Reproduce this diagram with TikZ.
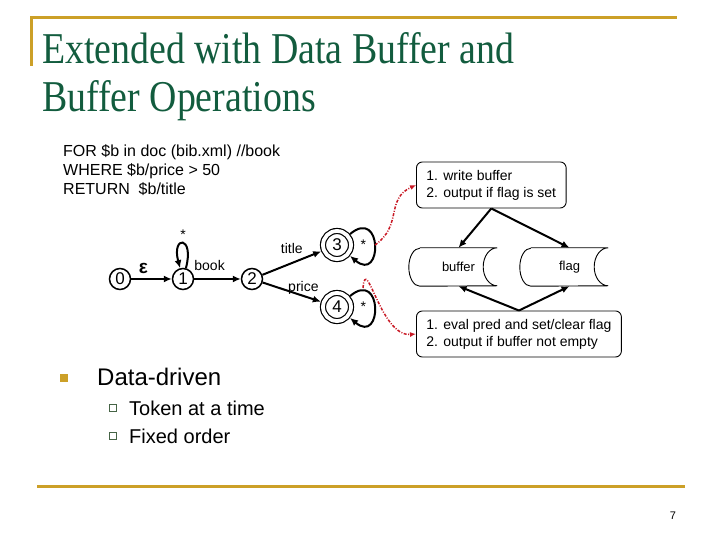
\documentclass[tikz,border=0pt]{standalone}
\usepackage{fontspec}
\setmainfont{Liberation Sans}
\newfontfamily\titlefont[FakeStretch=0.86]{Liberation Serif}
\usetikzlibrary{arrows.meta}

\definecolor{rulegold}{RGB}{204,160,40}
\definecolor{titlegreen}{RGB}{18,92,62}
\definecolor{linkred}{RGB}{200,24,36}
\definecolor{boxgreen}{RGB}{70,100,70}

\begin{document}
\begin{tikzpicture}[x=1pt, y=1pt, >={Latex[length=8pt,width=7pt]},
    state/.style={circle, draw, line width=1.5pt, minimum size=21pt, inner sep=0pt, font=\fontsize{17}{17}\selectfont},
    finalstate/.style={state, minimum size=28pt, line width=1.2pt, double, double distance=3.8pt, outer sep=3pt},
    trans/.style={->, line width=2pt},
    lbl/.style={font=\fontsize{14}{14}\selectfont},
    opbox/.style={draw, rounded corners=6pt, line width=0.9pt, align=left, inner xsep=10pt, inner ysep=8pt, font=\fontsize{14}{17}\selectfont},
    pipe/.style={minimum width=77pt, minimum height=38pt, font=\fontsize{13}{13}\selectfont},
    trigger/.style={->, linkred, line width=1.5pt, dash pattern=on 3pt off 1.5pt on 1pt off 1.5pt, >={Latex[length=6pt,width=5pt]}}
  ]
    \useasboundingbox (0,0) rectangle (720,540);

    % Frame rules
    \draw[rulegold, line width=3pt] (30,522) -- (677,522);
    \draw[rulegold, line width=3pt] (31,523.5) -- (31,474);
    \draw[rulegold, line width=3pt] (37,53) -- (685,53);

    % Title
    \node[anchor=north west, align=left, inner sep=0pt, text=titlegreen, font=\titlefont\fontsize{44}{48}\selectfont] (heading) at (42,508) {Extended with Data Buffer and\\Buffer Operations};

    % Query
    \node[anchor=north west, align=left, inner sep=0pt, font=\fontsize{16}{19}\selectfont] (query) at (63,396) {FOR \$b in doc (bib.xml) //book\\WHERE \$b/price > 50\\RETURN\ \ \$b/title};

    % Automaton
    \node[state] (s0) at (120,261) {0};
    \node[state] (s1) at (183,261) {1};
    \node[state] (s2) at (252,261) {2};
    \node[finalstate] (s3) at (337,295) {3};
    \node[finalstate] (s4) at (337,233) {4};

    \draw[trans] (s0) -- node[above=1pt, pos=0.3, font=\bfseries\fontsize{19}{19}\selectfont] (eps) {ε} (s1);
    \draw[trans] (s1) to[out=75, in=105, looseness=15] node[above=0pt, lbl] (any1) {*} (s1);
    \draw[trans] (s1) -- node[above=4pt, pos=0.33, lbl] (book) {book} (s2);
    \draw[trans] (s2) -- node[above=5pt, pos=0.5, lbl] (title) {title} (s3);
    \draw[trans] (s2) -- node[above=-3pt, pos=0.7, lbl] (price) {price} (s4);
    \draw[trans] (s3) to[out=40, in=-40, looseness=5] node[left=4pt, lbl] (any3) {*} (s3);
    \draw[trans] (s4) to[out=40, in=-40, looseness=5] node[left=4pt, lbl] (any4) {*} (s4);

    % Buffer operations
    \node[opbox, anchor=west] (wbox) at (416,355) {1. write buffer\\2. output if flag is set};
    \node[opbox, anchor=west] (ebox) at (416,206) {1. eval pred and set/clear flag\\2. output if buffer not empty};
    \node[pipe] (buf) at (458.5,273) {buffer};
    \node[pipe] (flg) at (569.5,273) {flag};
    \foreach \p in {buf,flg} {
        \draw[line width=0.9pt] (\p.north west) -- (\p.north east)
            arc[start angle=90, end angle=270, x radius=14pt, y radius=19pt]
            -- (\p.south west)
            arc[start angle=270, end angle=90, x radius=11pt, y radius=19pt];
    }
    \draw[trans] (wbox.south) -- (buf.north);
    \draw[trans] (wbox.south) -- (flg.north);
    \draw[trans] (ebox.north) -- (buf.south);
    \draw[trans] (ebox.north) -- (flg.south);

    % Links from final states
    \coordinate (l3) at ([xshift=38pt]s3.center);
    \coordinate (l4) at ([xshift=26pt,yshift=19pt]s4.center);
    \draw[trigger] (l3) to[out=35, in=205, looseness=1.2] (wbox.west);
    \draw[trigger] (l4) to[out=85, in=185, looseness=1.3] (ebox.west);

    % Bullets
    \node[fill=rulegold, minimum size=8pt, inner sep=0pt] (sq) at (64,162) {};
    \node[anchor=west, inner sep=0pt, font=\fontsize{24}{24}\selectfont] (dd) at (97,163) {Data-driven};
    \foreach \y/\txt [count=\i] in {132/Token at a time, 104/Fixed order} {
        \node[draw=boxgreen, line width=0.8pt, minimum size=7pt, inner sep=0pt] (sub\i) at (113,\y) {};
        \node[anchor=west, inner sep=0pt, font=\fontsize{20}{20}\selectfont] (item\i) at (129,\y) {\txt};
    }

    % Page number
    \node[font=\fontsize{11}{11}\selectfont] (page) at (673,24) {7};
\end{tikzpicture}
\end{document}
